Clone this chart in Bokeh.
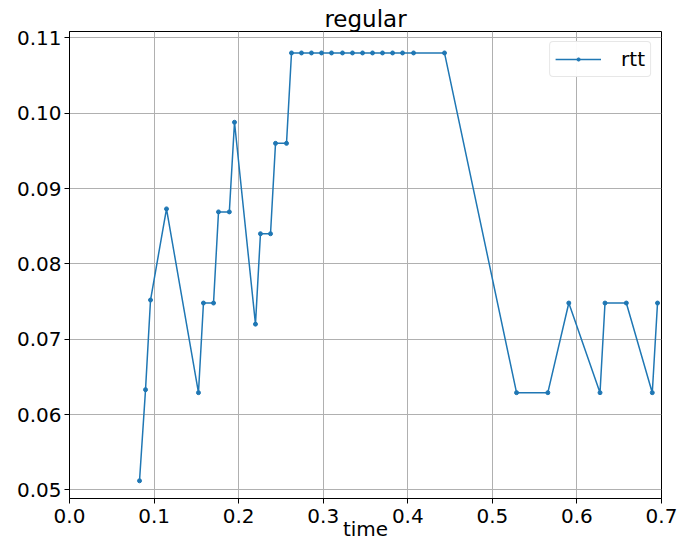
from bokeh.plotting import figure
from bokeh.models import FixedTicker, NumeralTickFormatter, Range1d
from bokeh.embed import file_html
from bokeh.resources import INLINE

# round-trip time samples over the run
time = [0.0828, 0.0899, 0.0958, 0.1147, 0.1525, 0.1584, 0.1703, 0.1762, 0.1890,
        0.1951, 0.2199, 0.2258, 0.2377, 0.2436, 0.2566, 0.2625, 0.2743, 0.2861,
        0.2980, 0.3098, 0.3228, 0.3346, 0.3465, 0.3583, 0.3701, 0.3820, 0.3938,
        0.4068, 0.4434, 0.5286, 0.5656, 0.5904, 0.6273, 0.6332, 0.6584, 0.6891,
        0.6953]
rtt = [0.0512, 0.0633, 0.0752, 0.0873, 0.0629, 0.0748, 0.0748, 0.0869, 0.0869,
       0.0988, 0.0720, 0.0840, 0.0840, 0.0960, 0.0960, 0.1080, 0.1080, 0.1080,
       0.1080, 0.1080, 0.1080, 0.1080, 0.1080, 0.1080, 0.1080, 0.1080, 0.1080,
       0.1080, 0.1080, 0.0629, 0.0629, 0.0748, 0.0629, 0.0748, 0.0748, 0.0629,
       0.0748]

x_ticks = [0.0, 0.1, 0.2, 0.3, 0.4, 0.5, 0.6, 0.7]
y_ticks = [0.05, 0.06, 0.07, 0.08, 0.09, 0.10, 0.11]

FONT = "DejaVu Sans"
BLUE = "#1f77b4"

p = figure(width=677, height=543, output_backend="svg", toolbar_location=None,
           title="regular", x_axis_label="time",
           x_range=Range1d(0.0, 0.7), y_range=Range1d(0.04885, 0.11085),
           min_border_left=69, min_border_right=16, min_border_top=31,
           min_border_bottom=45)

p.title.align = "center"
p.title.text_font = FONT
p.title.text_font_size = "23px"
p.title.text_font_style = "normal"
p.title.text_color = "black"
p.title.standoff = 0

p.line(time, rtt, color=BLUE, line_width=1.5, legend_label="rtt")
p.scatter(time, rtt, size=4, color=BLUE, legend_label="rtt")

for ax in (p.xaxis[0], p.yaxis[0]):
    ax.major_label_text_font = FONT
    ax.major_label_text_font_size = "20px"
    ax.axis_label_text_font = FONT
    ax.axis_label_text_font_size = "20px"
    ax.axis_label_text_font_style = "normal"
    ax.axis_label_text_color = "black"
    ax.major_tick_out = 5
    ax.major_tick_in = 0
    ax.minor_tick_line_color = None
    ax.axis_line_color = "black"
    ax.major_label_text_color = "black"

# the axis title tucks in between the 0.3 and 0.4 tick labels
p.xaxis[0].ticker = FixedTicker(ticks=x_ticks)
p.xaxis[0].formatter = NumeralTickFormatter(format="0.0")
p.xaxis[0].major_label_standoff = 5
p.xaxis[0].axis_label_standoff = -9
p.yaxis[0].ticker = FixedTicker(ticks=y_ticks)
p.yaxis[0].formatter = NumeralTickFormatter(format="0.00")
p.yaxis[0].major_label_standoff = 3

p.grid.grid_line_color = "#b0b0b0"
p.grid.grid_line_width = 1
p.outline_line_color = "black"
p.outline_line_width = 1

leg = p.legend[0]
leg.location = "top_right"
leg.label_text_font = FONT
leg.label_text_font_size = "20px"
leg.label_text_color = "black"
leg.border_line_color = "#d0d0d0"
leg.glyph_width = 46
leg.glyph_height = 8
leg.label_standoff = 20
leg.margin = 10
leg.padding = 5
if hasattr(leg, "border_radius"):
    leg.border_radius = 4

open("out.html", "w").write(file_html(p, INLINE))
